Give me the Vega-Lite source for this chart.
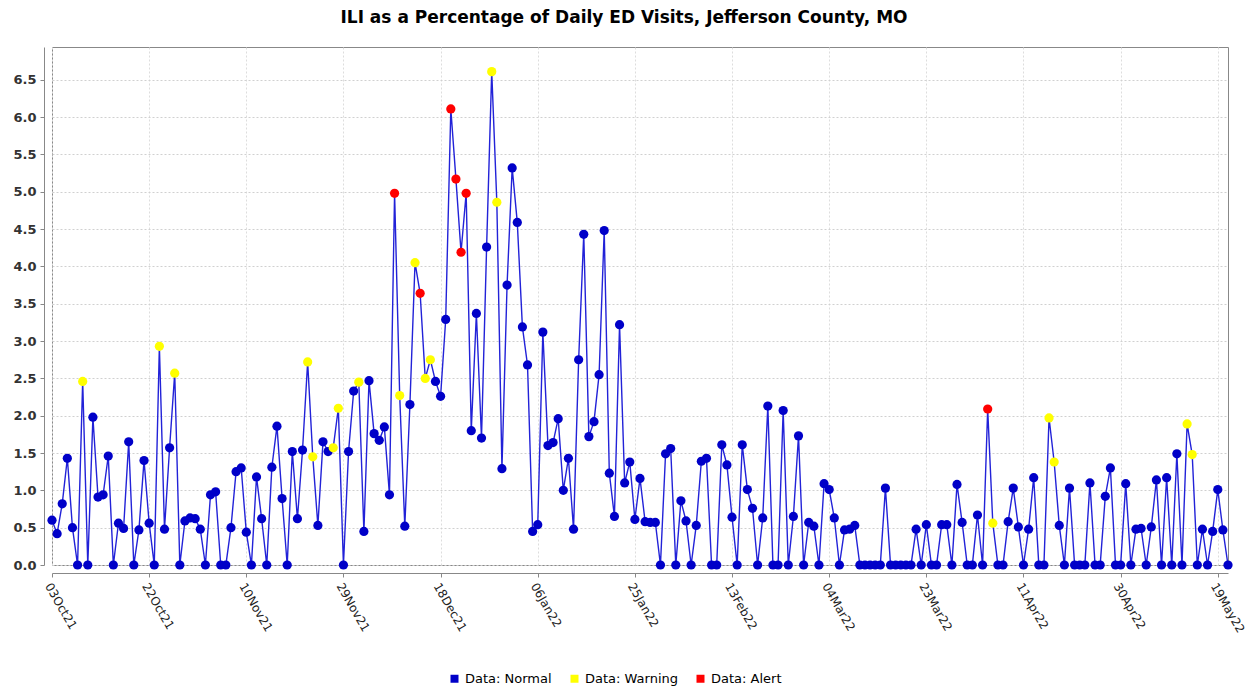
{
  "$schema": "https://vega.github.io/schema/vega-lite/v6.json",
  "autosize": {"type": "none"},
  "width": 1176,
  "height": 518,
  "padding": {"left": 52, "top": 47, "right": 24, "bottom": 124},
  "background": "white",
  "title": {"text": "ILI as a Percentage of Daily ED Visits, Jefferson County, MO", "font": "DejaVu Sans", "fontSize": 17, "fontWeight": "bold", "color": "#000000", "anchor": "middle", "dx": -16, "offset": 20},
  "config": {"view": {"stroke": "#888888", "strokeWidth": 1}},
  "data": {"values": [
    {"date": "2021-10-03", "value": 0.60, "status": "Normal"},
    {"date": "2021-10-04", "value": 0.42, "status": "Normal"},
    {"date": "2021-10-05", "value": 0.82, "status": "Normal"},
    {"date": "2021-10-06", "value": 1.43, "status": "Normal"},
    {"date": "2021-10-07", "value": 0.50, "status": "Normal"},
    {"date": "2021-10-08", "value": 0, "status": "Normal"},
    {"date": "2021-10-09", "value": 2.46, "status": "Warning"},
    {"date": "2021-10-10", "value": 0, "status": "Normal"},
    {"date": "2021-10-11", "value": 1.98, "status": "Normal"},
    {"date": "2021-10-12", "value": 0.91, "status": "Normal"},
    {"date": "2021-10-13", "value": 0.94, "status": "Normal"},
    {"date": "2021-10-14", "value": 1.46, "status": "Normal"},
    {"date": "2021-10-15", "value": 0, "status": "Normal"},
    {"date": "2021-10-16", "value": 0.56, "status": "Normal"},
    {"date": "2021-10-17", "value": 0.49, "status": "Normal"},
    {"date": "2021-10-18", "value": 1.65, "status": "Normal"},
    {"date": "2021-10-19", "value": 0, "status": "Normal"},
    {"date": "2021-10-20", "value": 0.47, "status": "Normal"},
    {"date": "2021-10-21", "value": 1.40, "status": "Normal"},
    {"date": "2021-10-22", "value": 0.56, "status": "Normal"},
    {"date": "2021-10-23", "value": 0, "status": "Normal"},
    {"date": "2021-10-24", "value": 2.93, "status": "Warning"},
    {"date": "2021-10-25", "value": 0.48, "status": "Normal"},
    {"date": "2021-10-26", "value": 1.57, "status": "Normal"},
    {"date": "2021-10-27", "value": 2.57, "status": "Warning"},
    {"date": "2021-10-28", "value": 0, "status": "Normal"},
    {"date": "2021-10-29", "value": 0.59, "status": "Normal"},
    {"date": "2021-10-30", "value": 0.63, "status": "Normal"},
    {"date": "2021-10-31", "value": 0.62, "status": "Normal"},
    {"date": "2021-11-01", "value": 0.48, "status": "Normal"},
    {"date": "2021-11-02", "value": 0, "status": "Normal"},
    {"date": "2021-11-03", "value": 0.94, "status": "Normal"},
    {"date": "2021-11-04", "value": 0.98, "status": "Normal"},
    {"date": "2021-11-05", "value": 0, "status": "Normal"},
    {"date": "2021-11-06", "value": 0, "status": "Normal"},
    {"date": "2021-11-07", "value": 0.50, "status": "Normal"},
    {"date": "2021-11-08", "value": 1.25, "status": "Normal"},
    {"date": "2021-11-09", "value": 1.30, "status": "Normal"},
    {"date": "2021-11-10", "value": 0.44, "status": "Normal"},
    {"date": "2021-11-11", "value": 0, "status": "Normal"},
    {"date": "2021-11-12", "value": 1.18, "status": "Normal"},
    {"date": "2021-11-13", "value": 0.62, "status": "Normal"},
    {"date": "2021-11-14", "value": 0, "status": "Normal"},
    {"date": "2021-11-15", "value": 1.31, "status": "Normal"},
    {"date": "2021-11-16", "value": 1.86, "status": "Normal"},
    {"date": "2021-11-17", "value": 0.89, "status": "Normal"},
    {"date": "2021-11-18", "value": 0, "status": "Normal"},
    {"date": "2021-11-19", "value": 1.52, "status": "Normal"},
    {"date": "2021-11-20", "value": 0.62, "status": "Normal"},
    {"date": "2021-11-21", "value": 1.54, "status": "Normal"},
    {"date": "2021-11-22", "value": 2.72, "status": "Warning"},
    {"date": "2021-11-23", "value": 1.45, "status": "Warning"},
    {"date": "2021-11-24", "value": 0.53, "status": "Normal"},
    {"date": "2021-11-25", "value": 1.65, "status": "Normal"},
    {"date": "2021-11-26", "value": 1.52, "status": "Normal"},
    {"date": "2021-11-27", "value": 1.57, "status": "Warning"},
    {"date": "2021-11-28", "value": 2.10, "status": "Warning"},
    {"date": "2021-11-29", "value": 0, "status": "Normal"},
    {"date": "2021-11-30", "value": 1.52, "status": "Normal"},
    {"date": "2021-12-01", "value": 2.33, "status": "Normal"},
    {"date": "2021-12-02", "value": 2.45, "status": "Warning"},
    {"date": "2021-12-03", "value": 0.45, "status": "Normal"},
    {"date": "2021-12-04", "value": 2.47, "status": "Normal"},
    {"date": "2021-12-05", "value": 1.76, "status": "Normal"},
    {"date": "2021-12-06", "value": 1.67, "status": "Normal"},
    {"date": "2021-12-07", "value": 1.85, "status": "Normal"},
    {"date": "2021-12-08", "value": 0.94, "status": "Normal"},
    {"date": "2021-12-09", "value": 4.98, "status": "Alert"},
    {"date": "2021-12-10", "value": 2.27, "status": "Warning"},
    {"date": "2021-12-11", "value": 0.52, "status": "Normal"},
    {"date": "2021-12-12", "value": 2.15, "status": "Normal"},
    {"date": "2021-12-13", "value": 4.05, "status": "Warning"},
    {"date": "2021-12-14", "value": 3.64, "status": "Alert"},
    {"date": "2021-12-15", "value": 2.50, "status": "Warning"},
    {"date": "2021-12-16", "value": 2.75, "status": "Warning"},
    {"date": "2021-12-17", "value": 2.46, "status": "Normal"},
    {"date": "2021-12-18", "value": 2.26, "status": "Normal"},
    {"date": "2021-12-19", "value": 3.29, "status": "Normal"},
    {"date": "2021-12-20", "value": 6.11, "status": "Alert"},
    {"date": "2021-12-21", "value": 5.17, "status": "Alert"},
    {"date": "2021-12-22", "value": 4.19, "status": "Alert"},
    {"date": "2021-12-23", "value": 4.98, "status": "Alert"},
    {"date": "2021-12-24", "value": 1.80, "status": "Normal"},
    {"date": "2021-12-25", "value": 3.37, "status": "Normal"},
    {"date": "2021-12-26", "value": 1.70, "status": "Normal"},
    {"date": "2021-12-27", "value": 4.26, "status": "Normal"},
    {"date": "2021-12-28", "value": 6.61, "status": "Warning"},
    {"date": "2021-12-29", "value": 4.86, "status": "Warning"},
    {"date": "2021-12-30", "value": 1.29, "status": "Normal"},
    {"date": "2021-12-31", "value": 3.75, "status": "Normal"},
    {"date": "2022-01-01", "value": 5.32, "status": "Normal"},
    {"date": "2022-01-02", "value": 4.59, "status": "Normal"},
    {"date": "2022-01-03", "value": 3.19, "status": "Normal"},
    {"date": "2022-01-04", "value": 2.68, "status": "Normal"},
    {"date": "2022-01-05", "value": 0.45, "status": "Normal"},
    {"date": "2022-01-06", "value": 0.54, "status": "Normal"},
    {"date": "2022-01-07", "value": 3.12, "status": "Normal"},
    {"date": "2022-01-08", "value": 1.60, "status": "Normal"},
    {"date": "2022-01-09", "value": 1.64, "status": "Normal"},
    {"date": "2022-01-10", "value": 1.96, "status": "Normal"},
    {"date": "2022-01-11", "value": 1.00, "status": "Normal"},
    {"date": "2022-01-12", "value": 1.43, "status": "Normal"},
    {"date": "2022-01-13", "value": 0.48, "status": "Normal"},
    {"date": "2022-01-14", "value": 2.75, "status": "Normal"},
    {"date": "2022-01-15", "value": 4.43, "status": "Normal"},
    {"date": "2022-01-16", "value": 1.72, "status": "Normal"},
    {"date": "2022-01-17", "value": 1.92, "status": "Normal"},
    {"date": "2022-01-18", "value": 2.55, "status": "Normal"},
    {"date": "2022-01-19", "value": 4.48, "status": "Normal"},
    {"date": "2022-01-20", "value": 1.23, "status": "Normal"},
    {"date": "2022-01-21", "value": 0.65, "status": "Normal"},
    {"date": "2022-01-22", "value": 3.22, "status": "Normal"},
    {"date": "2022-01-23", "value": 1.10, "status": "Normal"},
    {"date": "2022-01-24", "value": 1.38, "status": "Normal"},
    {"date": "2022-01-25", "value": 0.61, "status": "Normal"},
    {"date": "2022-01-26", "value": 1.16, "status": "Normal"},
    {"date": "2022-01-27", "value": 0.58, "status": "Normal"},
    {"date": "2022-01-28", "value": 0.57, "status": "Normal"},
    {"date": "2022-01-29", "value": 0.57, "status": "Normal"},
    {"date": "2022-01-30", "value": 0, "status": "Normal"},
    {"date": "2022-01-31", "value": 1.49, "status": "Normal"},
    {"date": "2022-02-01", "value": 1.56, "status": "Normal"},
    {"date": "2022-02-02", "value": 0, "status": "Normal"},
    {"date": "2022-02-03", "value": 0.86, "status": "Normal"},
    {"date": "2022-02-04", "value": 0.59, "status": "Normal"},
    {"date": "2022-02-05", "value": 0, "status": "Normal"},
    {"date": "2022-02-06", "value": 0.53, "status": "Normal"},
    {"date": "2022-02-07", "value": 1.39, "status": "Normal"},
    {"date": "2022-02-08", "value": 1.43, "status": "Normal"},
    {"date": "2022-02-09", "value": 0, "status": "Normal"},
    {"date": "2022-02-10", "value": 0, "status": "Normal"},
    {"date": "2022-02-11", "value": 1.61, "status": "Normal"},
    {"date": "2022-02-12", "value": 1.34, "status": "Normal"},
    {"date": "2022-02-13", "value": 0.64, "status": "Normal"},
    {"date": "2022-02-14", "value": 0, "status": "Normal"},
    {"date": "2022-02-15", "value": 1.61, "status": "Normal"},
    {"date": "2022-02-16", "value": 1.01, "status": "Normal"},
    {"date": "2022-02-17", "value": 0.76, "status": "Normal"},
    {"date": "2022-02-18", "value": 0, "status": "Normal"},
    {"date": "2022-02-19", "value": 0.63, "status": "Normal"},
    {"date": "2022-02-20", "value": 2.13, "status": "Normal"},
    {"date": "2022-02-21", "value": 0, "status": "Normal"},
    {"date": "2022-02-22", "value": 0, "status": "Normal"},
    {"date": "2022-02-23", "value": 2.07, "status": "Normal"},
    {"date": "2022-02-24", "value": 0, "status": "Normal"},
    {"date": "2022-02-25", "value": 0.65, "status": "Normal"},
    {"date": "2022-02-26", "value": 1.73, "status": "Normal"},
    {"date": "2022-02-27", "value": 0, "status": "Normal"},
    {"date": "2022-02-28", "value": 0.57, "status": "Normal"},
    {"date": "2022-03-01", "value": 0.52, "status": "Normal"},
    {"date": "2022-03-02", "value": 0, "status": "Normal"},
    {"date": "2022-03-03", "value": 1.09, "status": "Normal"},
    {"date": "2022-03-04", "value": 1.01, "status": "Normal"},
    {"date": "2022-03-05", "value": 0.63, "status": "Normal"},
    {"date": "2022-03-06", "value": 0, "status": "Normal"},
    {"date": "2022-03-07", "value": 0.47, "status": "Normal"},
    {"date": "2022-03-08", "value": 0.48, "status": "Normal"},
    {"date": "2022-03-09", "value": 0.53, "status": "Normal"},
    {"date": "2022-03-10", "value": 0, "status": "Normal"},
    {"date": "2022-03-11", "value": 0, "status": "Normal"},
    {"date": "2022-03-12", "value": 0, "status": "Normal"},
    {"date": "2022-03-13", "value": 0, "status": "Normal"},
    {"date": "2022-03-14", "value": 0, "status": "Normal"},
    {"date": "2022-03-15", "value": 1.03, "status": "Normal"},
    {"date": "2022-03-16", "value": 0, "status": "Normal"},
    {"date": "2022-03-17", "value": 0, "status": "Normal"},
    {"date": "2022-03-18", "value": 0, "status": "Normal"},
    {"date": "2022-03-19", "value": 0, "status": "Normal"},
    {"date": "2022-03-20", "value": 0, "status": "Normal"},
    {"date": "2022-03-21", "value": 0.48, "status": "Normal"},
    {"date": "2022-03-22", "value": 0, "status": "Normal"},
    {"date": "2022-03-23", "value": 0.54, "status": "Normal"},
    {"date": "2022-03-24", "value": 0, "status": "Normal"},
    {"date": "2022-03-25", "value": 0, "status": "Normal"},
    {"date": "2022-03-26", "value": 0.54, "status": "Normal"},
    {"date": "2022-03-27", "value": 0.54, "status": "Normal"},
    {"date": "2022-03-28", "value": 0, "status": "Normal"},
    {"date": "2022-03-29", "value": 1.08, "status": "Normal"},
    {"date": "2022-03-30", "value": 0.57, "status": "Normal"},
    {"date": "2022-03-31", "value": 0, "status": "Normal"},
    {"date": "2022-04-01", "value": 0, "status": "Normal"},
    {"date": "2022-04-02", "value": 0.67, "status": "Normal"},
    {"date": "2022-04-03", "value": 0, "status": "Normal"},
    {"date": "2022-04-04", "value": 2.09, "status": "Alert"},
    {"date": "2022-04-05", "value": 0.56, "status": "Warning"},
    {"date": "2022-04-06", "value": 0, "status": "Normal"},
    {"date": "2022-04-07", "value": 0, "status": "Normal"},
    {"date": "2022-04-08", "value": 0.58, "status": "Normal"},
    {"date": "2022-04-09", "value": 1.03, "status": "Normal"},
    {"date": "2022-04-10", "value": 0.51, "status": "Normal"},
    {"date": "2022-04-11", "value": 0, "status": "Normal"},
    {"date": "2022-04-12", "value": 0.48, "status": "Normal"},
    {"date": "2022-04-13", "value": 1.17, "status": "Normal"},
    {"date": "2022-04-14", "value": 0, "status": "Normal"},
    {"date": "2022-04-15", "value": 0, "status": "Normal"},
    {"date": "2022-04-16", "value": 1.97, "status": "Warning"},
    {"date": "2022-04-17", "value": 1.38, "status": "Warning"},
    {"date": "2022-04-18", "value": 0.53, "status": "Normal"},
    {"date": "2022-04-19", "value": 0, "status": "Normal"},
    {"date": "2022-04-20", "value": 1.03, "status": "Normal"},
    {"date": "2022-04-21", "value": 0, "status": "Normal"},
    {"date": "2022-04-22", "value": 0, "status": "Normal"},
    {"date": "2022-04-23", "value": 0, "status": "Normal"},
    {"date": "2022-04-24", "value": 1.10, "status": "Normal"},
    {"date": "2022-04-25", "value": 0, "status": "Normal"},
    {"date": "2022-04-26", "value": 0, "status": "Normal"},
    {"date": "2022-04-27", "value": 0.92, "status": "Normal"},
    {"date": "2022-04-28", "value": 1.30, "status": "Normal"},
    {"date": "2022-04-29", "value": 0, "status": "Normal"},
    {"date": "2022-04-30", "value": 0, "status": "Normal"},
    {"date": "2022-05-01", "value": 1.09, "status": "Normal"},
    {"date": "2022-05-02", "value": 0, "status": "Normal"},
    {"date": "2022-05-03", "value": 0.48, "status": "Normal"},
    {"date": "2022-05-04", "value": 0.49, "status": "Normal"},
    {"date": "2022-05-05", "value": 0, "status": "Normal"},
    {"date": "2022-05-06", "value": 0.51, "status": "Normal"},
    {"date": "2022-05-07", "value": 1.14, "status": "Normal"},
    {"date": "2022-05-08", "value": 0, "status": "Normal"},
    {"date": "2022-05-09", "value": 1.17, "status": "Normal"},
    {"date": "2022-05-10", "value": 0, "status": "Normal"},
    {"date": "2022-05-11", "value": 1.49, "status": "Normal"},
    {"date": "2022-05-12", "value": 0, "status": "Normal"},
    {"date": "2022-05-13", "value": 1.89, "status": "Warning"},
    {"date": "2022-05-14", "value": 1.48, "status": "Warning"},
    {"date": "2022-05-15", "value": 0, "status": "Normal"},
    {"date": "2022-05-16", "value": 0.48, "status": "Normal"},
    {"date": "2022-05-17", "value": 0, "status": "Normal"},
    {"date": "2022-05-18", "value": 0.45, "status": "Normal"},
    {"date": "2022-05-19", "value": 1.01, "status": "Normal"},
    {"date": "2022-05-20", "value": 0.47, "status": "Normal"},
    {"date": "2022-05-21", "value": 0, "status": "Normal"}
  ]},
  "encoding": {
    "x": {
      "field": "date", "type": "temporal",
      "scale": {"type": "utc", "domain": [{"year": 2021, "month": 10, "date": 3, "utc": true}, {"year": 2022, "month": 5, "date": 21, "utc": true}]},
      "axis": {
        "title": null,
        "values": [
          {"year": 2021, "month": 10, "date": 3, "utc": true},
          {"year": 2021, "month": 10, "date": 22, "utc": true},
          {"year": 2021, "month": 11, "date": 10, "utc": true},
          {"year": 2021, "month": 11, "date": 29, "utc": true},
          {"year": 2021, "month": 12, "date": 18, "utc": true},
          {"year": 2022, "month": 1, "date": 6, "utc": true},
          {"year": 2022, "month": 1, "date": 25, "utc": true},
          {"year": 2022, "month": 2, "date": 13, "utc": true},
          {"year": 2022, "month": 3, "date": 4, "utc": true},
          {"year": 2022, "month": 3, "date": 23, "utc": true},
          {"year": 2022, "month": 4, "date": 11, "utc": true},
          {"year": 2022, "month": 4, "date": 30, "utc": true},
          {"year": 2022, "month": 5, "date": 19, "utc": true}
        ],
        "labelExpr": "utcFormat(datum.value, '%d%b%y')",
        "labelAngle": 60, "labelAlign": "left", "labelBaseline": "top",
        "labelFlush": false, "labelOverlap": false, "labelBound": false,
        "labelFont": "DejaVu Sans", "labelFontSize": 12, "labelColor": "#222222", "labelPadding": 4,
        "offset": 8, "tickSize": 4, "tickColor": "#888888", "domainColor": "#888888",
        "grid": true, "gridDash": [2, 2], "gridColor": "#dddddd"
      }
    },
    "y": {
      "field": "value", "type": "quantitative",
      "scale": {"domain": [0, 6.94], "nice": false, "zero": true},
      "axis": {
        "title": null,
        "values": [0, 0.5, 1, 1.5, 2, 2.5, 3, 3.5, 4, 4.5, 5, 5.5, 6, 6.5],
        "format": ".1f",
        "labelFont": "DejaVu Sans", "labelFontSize": 13, "labelFontWeight": "bold", "labelColor": "#333333", "labelPadding": 4,
        "offset": 8, "tickSize": 4, "tickColor": "#888888", "domainColor": "#888888",
        "grid": true, "gridDash": [2, 2], "gridColor": "#d0d0d0"
      }
    }
  },
  "layer": [
    {"mark": {"type": "line", "color": "#2222d8", "strokeWidth": 1.4}},
    {
      "mark": {"type": "point", "filled": true, "size": 85, "opacity": 1, "strokeWidth": 0},
      "encoding": {
        "color": {
          "field": "status", "type": "nominal",
          "scale": {"domain": ["Normal", "Warning", "Alert"], "range": ["#0000c8", "#ffff00", "#ff0000"]},
          "legend": {
            "title": null, "orient": "none", "legendX": 396, "legendY": 625, "direction": "horizontal",
            "labelExpr": "'Data: ' + datum.label",
            "symbolType": "square", "symbolSize": 64, "symbolStrokeWidth": 0,
            "labelFont": "DejaVu Sans", "labelFontSize": 13, "labelColor": "#000000",
            "columnPadding": 16, "padding": 0
          }
        }
      }
    }
  ]
}
